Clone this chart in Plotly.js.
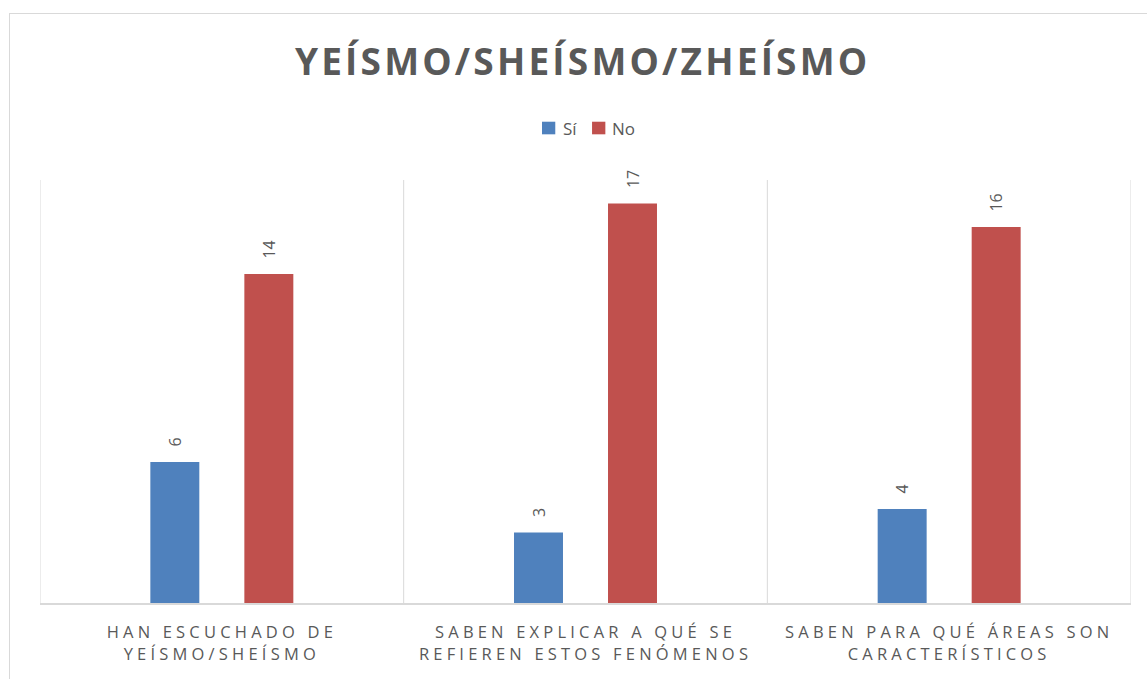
<!DOCTYPE html>
<html>
<head>
<meta charset="utf-8">
<script src="https://cdn.plot.ly/plotly-3.0.1.min.js"></script>
<style>
  html, body { margin: 0; padding: 0; background: #fff; overflow: hidden; }
  #frame { position: absolute; left: 9px; top: 13px; width: 1200px; height: 700px; border: 1px solid #d9d9d9; }
  #chart { position: absolute; left: 0; top: 0; width: 1147px; height: 679px; }
  .gtitle { letter-spacing: 3.2px; }
  .xtick text { letter-spacing: 4.2px; }
</style>
</head>
<body>
<div id="frame"></div>
<div id="chart"></div>
<script>
const categories = [
  "HAN ESCUCHADO DE<br>YEÍSMO/SHEÍSMO",
  "SABEN EXPLICAR A QUÉ SE<br>REFIEREN ESTOS FENÓMENOS",
  "SABEN PARA QUÉ ÁREAS SON<br>CARACTERÍSTICOS"
];
const siValues = [6, 3, 4];
const noValues = [14, 17, 16];
const seriesNames = ["Sí", "No"];
const seriesColors = ["#4f81bd", "#c0504d"];

const labelFont = { family: "Open Sans, sans-serif", size: 16, color: "#595959" };
const tickFont = { family: "Open Sans, sans-serif", size: 16.5, color: "#595959" };
const legendFont = { family: "Open Sans, sans-serif", size: 17, color: "#595959" };

const seriesValues = [siValues, noValues];
const traces = seriesNames.map((name, k) => ({
  type: "bar", name: name, x: categories, y: seriesValues[k],
  marker: { color: seriesColors[k] },
  text: seriesValues[k], texttemplate: "\u00a0\u00a0\u00a0%{y}", textposition: "outside",
  textangle: -90, textfont: labelFont, cliponaxis: false, hoverinfo: "skip"
}));

const shapes = [];
for (let i = 0; i <= categories.length; i++) {
  shapes.push({
    type: "line", xref: "x", yref: "y", x0: i - 0.5, x1: i - 0.5, y0: 0, y1: 18,
    line: { color: "#d9d9d9", width: 1 }, layer: "below"
  });
}

// legend drawn as swatches + labels (paper coordinates)
const legendSwatchX = [0.4601, 0.5060];
const legendTextX = [0.4775, 0.5225];
const annotations = [];
seriesNames.forEach((name, k) => {
  shapes.push({
    type: "rect", xref: "paper", yref: "paper",
    x0: legendSwatchX[k], x1: legendSwatchX[k] + 0.0122, y0: 1.108, y1: 1.1378,
    fillcolor: seriesColors[k], line: { width: 0 }
  });
  annotations.push({
    xref: "paper", yref: "paper", x: legendTextX[k], y: 1.1229,
    xanchor: "left", yanchor: "middle", text: name, showarrow: false, font: legendFont
  });
});

const layout = {
  width: 1147, height: 679,
  margin: { l: 40, r: 16, t: 180, b: 76 },
  paper_bgcolor: "rgba(0,0,0,0)", plot_bgcolor: "rgba(0,0,0,0)",
  title: {
    text: "<b>YEÍSMO/SHEÍSMO/ZHEÍSMO</b>",
    font: { family: "Open Sans, sans-serif", size: 37, color: "#595959" },
    x: 0.508, xanchor: "center", y: 0.908, yanchor: "middle"
  },
  showlegend: false,
  barmode: "group", bargap: 0.483, bargroupgap: 0.479,
  xaxis: {
    range: [-0.5, 2.5], showgrid: false, zeroline: false,
    showline: true, linecolor: "#d9d9d9", linewidth: 1.5,
    ticks: "", tickfont: tickFont, ticklabelstandoff: 14, fixedrange: true
  },
  yaxis: {
    range: [0, 18], visible: false, showgrid: false, zeroline: false, fixedrange: true
  },
  shapes: shapes,
  annotations: annotations
};

Plotly.newPlot("chart", traces, layout, { displayModeBar: false, staticPlot: true });
</script>
</body>
</html>
